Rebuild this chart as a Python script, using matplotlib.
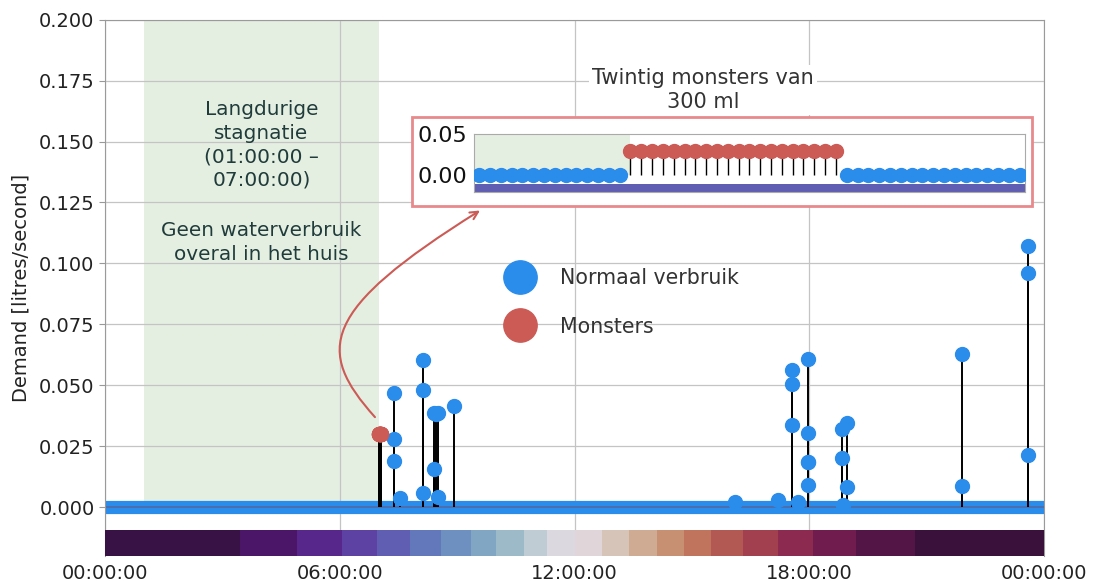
import numpy as np
import matplotlib.pyplot as plt
from matplotlib.lines import Line2D
from matplotlib.patches import Rectangle, FancyArrowPatch
from matplotlib.path import Path
from matplotlib.ticker import FuncFormatter

# normal water use: hour of day and demand (litres/second)
use_hours = [7.39, 7.39, 7.39, 7.55,
             8.14, 8.14, 8.14,
             8.41, 8.46, 8.51, 8.41, 8.51,
             8.93,
             16.10, 17.20,
             17.55, 17.55, 17.55, 17.70,
             17.98, 17.96, 17.98, 17.98, 17.98,
             18.83, 18.83, 18.87, 18.97, 18.97,
             21.90, 21.90,
             23.58, 23.58, 23.58]
use_values = [0.0468, 0.0279, 0.0189, 0.0038,
              0.0605, 0.0482, 0.0059,
              0.0384, 0.0380, 0.0384, 0.0156, 0.0042,
              0.0415,
              0.0020, 0.0030,
              0.0564, 0.0504, 0.0336, 0.0020,
              0.0607, 0.0185, 0.0305, 0.0183, 0.0090,
              0.0320, 0.0200, 0.0010, 0.0346, 0.0083,
              0.0630, 0.0087,
              0.1070, 0.0962, 0.0213]

# twenty samples of 300 ml, taken every 10 s from 07:00:00
sample_start = 7.0
sample_step_h = 10 / 3600
monster_values = [0.030, 0.030, 0.030, 0.030, 0.030, 0.030, 0.030, 0.030, 0.030, 0.030,
                  0.030, 0.030, 0.030, 0.030, 0.030, 0.030, 0.030, 0.030, 0.030, 0.030]
n_before = 14
n_after = 17

stagnation = (1.0, 7.0)

# time-of-day colour strip (segment edges in hours)
strip_edges = [0.0, 3.45, 4.9, 6.06, 6.96, 7.8, 8.6, 9.36, 10.0, 10.7, 11.3, 12.0,
               12.7, 13.4, 14.1, 14.8, 15.5, 16.3, 17.2, 18.1, 19.2, 20.7, 24.0]

hour_ticks = [0, 6, 12, 18, 24]

blue = '#2a8ceb'
red = '#cc5a55'
txt = '#1f3b3a'

strip_colors = plt.get_cmap('twilight_shifted')(np.linspace(0.03, 0.97, len(strip_edges) - 1))
strip_left = strip_edges[:-1]
strip_width = np.diff(strip_edges)

monster_hours = sample_start + sample_step_h * np.arange(len(monster_values))
before_hours = sample_start - sample_step_h * np.arange(n_before, 0, -1)
after_hours = sample_start + sample_step_h * np.arange(len(monster_values), len(monster_values) + n_after)

fig = plt.figure(figsize=(10.94, 5.81), dpi=100)
ax = fig.add_axes([0.096, 0.0434, 0.8583, 0.9227])

ax.set_xlim(0, 24)
ax.set_ylim(-0.02, 0.2)
ax.set_axisbelow(True)
ax.grid(True, color='#c4c4c4', lw=0.9)

ax.axvspan(stagnation[0], stagnation[1], ymin=0.02 / 0.22, ymax=1, color='#e4efe2', zorder=0.2, lw=0)

# colour strip along the bottom
ax.bar(strip_left, 0.0105, width=strip_width, bottom=-0.02, align='edge',
       color=strip_colors, lw=0, zorder=3)

# baseline of normal use at zero
ax.axhline(0, color=blue, lw=9.5, zorder=2)
ax.axhline(0, color='#4a6fae', lw=1.4, zorder=2.1)

ax.vlines(use_hours, 0, use_values, color='black', lw=1.4, zorder=3)
ax.plot(use_hours, use_values, 'o', color=blue, ms=10, zorder=4)
ax.vlines(monster_hours, 0, monster_values, color='black', lw=1.4, zorder=3)
ax.plot(monster_hours, monster_values, 'o', color=red, ms=10, zorder=4)

ax.set_xticks(hour_ticks)
ax.xaxis.set_major_formatter(FuncFormatter(lambda v, p: '%02d:00:00' % (int(v) % 24)))
ax.set_yticks(np.arange(0, 0.2001, 0.025))
ax.yaxis.set_major_formatter(FuncFormatter(lambda v, p: '%.3f' % v))
ax.tick_params(axis='x', length=0, pad=6, labelsize=14, labelcolor='#222222')
ax.tick_params(axis='y', length=4, color='#999999', labelsize=14, labelcolor='#222222')
ax.set_ylabel('Demand [litres/second]', fontsize=14, color='#222222', labelpad=6)
for s in ['left', 'right', 'top']:
    ax.spines[s].set_color('#9a9a9a')
ax.spines['bottom'].set_visible(False)

ax.text(4.0, 0.1486, 'Langdurige\nstagnatie\n(01:00:00 –\n07:00:00)', ha='center', va='center',
        fontsize=14.4, color=txt, linespacing=1.3)
ax.text(4.0, 0.1086, 'Geen waterverbruik\noveral in het huis', ha='center', va='center',
        fontsize=14.4, color=txt, linespacing=1.3)

handles = [Line2D([], [], marker='o', ls='', color=blue, ms=24, label='Normaal verbruik'),
           Line2D([], [], marker='o', ls='', color=red, ms=24, label='Monsters')]
ax.legend(handles=handles, loc='upper left', bbox_to_anchor=(0.4255, 0.536), frameon=False,
          fontsize=14.8, labelcolor='#333333', handlelength=1.5, handletextpad=1.2,
          labelspacing=1.37, borderpad=0, borderaxespad=0)

# curved arrow from the sampling moment up to the zoomed view
arrow_path = Path([(6.90, 0.0369), (5.37, 0.0643), (5.50, 0.0807), (9.585, 0.1217)],
                  [Path.MOVETO, Path.CURVE4, Path.CURVE4, Path.CURVE4])
ax.add_patch(FancyArrowPatch(path=arrow_path, arrowstyle='->', mutation_scale=14,
                             color=red, lw=1.5, zorder=5))

# red frame and zoomed view
fig.patches.append(Rectangle((0.3766, 0.6454), 0.5667, 0.1532, transform=fig.transFigure,
                             facecolor='white', edgecolor='#e8898b', lw=2, zorder=1))
fig.text(0.6426, 0.845, 'Twintig monsters van\n300 ml', ha='center', va='center', fontsize=15,
         color='#333333', zorder=5, linespacing=1.3,
         bbox=dict(facecolor='white', edgecolor='none', pad=2))

ins = fig.add_axes([0.433, 0.6695, 0.504, 0.0998], zorder=2)
ins.set_xlim(sample_start - (n_before + 0.5) * sample_step_h,
             sample_start + (len(monster_values) + n_after - 0.5) * sample_step_h)
ins.set_ylim(-0.02, 0.05)
ins.axvspan(0, stagnation[1], ymin=0.02 / 0.07, ymax=1, color='#e4efe2', lw=0, zorder=0.2)
ins.bar(strip_left, 0.0095, width=strip_width, bottom=-0.0195, align='edge',
        color=strip_colors, lw=0, zorder=1)
ins.vlines(monster_hours, 0, monster_values, color='black', lw=1.0, zorder=2)
ins.plot(before_hours, np.zeros(n_before), 'o', color=blue, ms=10, zorder=3)
ins.plot(after_hours, np.zeros(n_after), 'o', color=blue, ms=10, zorder=3)
ins.plot(monster_hours, monster_values, 'o', color=red, ms=10, zorder=3)
ins.set_xticks([])
ins.set_yticks([0, 0.05])
ins.yaxis.set_major_formatter(FuncFormatter(lambda v, p: '%.2f' % v))
ins.tick_params(axis='y', length=0, pad=5, labelsize=16, labelcolor='#111111')
for s in ins.spines.values():
    s.set_color('#aaaaaa')

fig.savefig('out.png', dpi=100)
